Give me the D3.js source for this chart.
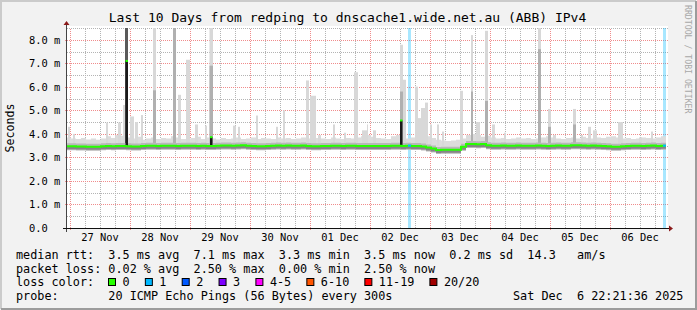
<!DOCTYPE html>
<meta charset="utf-8">
<style>
 body { margin: 0; background: #f2f2f2; }
 svg text { font-family: "DejaVu Sans Mono", monospace; fill: #000; white-space: pre; }
 .grid-minor line { stroke: #b4b4b4; stroke-dasharray: 1,1; }
 .grid-major line { stroke: #f08c8c; stroke-dasharray: 1,1; }
</style>
<body>
<svg width="697" height="310"></svg>
<script src="https://d3js.org/d3.v7.min.js"></script>
<script>

 var title = "Last 10 Days from redping to dnscache1.wide.net.au (ABB) IPv4";
 var endTime = new Date(2025, 11, 6, 22, 21, 36);
 var startTime = d3.timeDay.offset(endTime, -10);
 var stepHours = 2; // one value per 2 hours

 var dayLabels = ["27 Nov", "28 Nov", "29 Nov", "30 Nov", "01 Dec", "02 Dec", "03 Dec", "04 Dec", "05 Dec", "06 Dec"];
 var yTickLabels = ["0.0", "1.0 m", "2.0 m", "3.0 m", "4.0 m", "5.0 m", "6.0 m", "7.0 m", "8.0 m"];

 // median rtt in ms
 var medianRtt = [
     3.47,3.47,3.46,3.46,3.45,3.45,3.45,3.47,3.48,3.47,3.49,3.49,
     3.47,3.46,3.46,3.49,3.50,3.50,3.49,3.50,3.50,3.50,3.49,3.50,
     3.50,3.50,3.49,3.50,3.49,3.48,3.50,3.51,3.51,3.50,3.51,3.52,
     3.50,3.48,3.47,3.47,3.49,3.50,3.51,3.50,3.51,3.50,3.50,3.51,
     3.49,3.47,3.47,3.48,3.49,3.50,3.50,3.49,3.50,3.50,3.49,3.48,
     3.48,3.48,3.48,3.48,3.49,3.50,3.50,3.49,3.50,3.48,3.48,3.46,
     3.42,3.38,3.32,3.33,3.33,3.33,3.33,3.45,3.57,3.57,3.56,3.57,
     3.52,3.50,3.50,3.51,3.50,3.50,3.51,3.50,3.50,3.50,3.51,3.50,
     3.49,3.50,3.51,3.50,3.50,3.52,3.52,3.51,3.50,3.51,3.50,3.49,
     3.47,3.45,3.45,3.47,3.49,3.50,3.50,3.49,3.50,3.51,3.49,3.50
 ];

 // fastest ping of the step (bottom of the smoke)
 var smokeLow = [
     3.35,3.34,3.33,3.33,3.32,3.33,3.33,3.34,3.35,3.34,3.35,3.36,
     3.34,3.33,3.34,3.36,3.36,3.37,3.36,3.36,3.37,3.36,3.35,3.36,
     3.37,3.36,3.35,3.36,3.35,3.34,3.36,3.37,3.37,3.36,3.37,3.38,
     3.36,3.34,3.33,3.34,3.35,3.36,3.37,3.36,3.37,3.36,3.36,3.37,
     3.35,3.33,3.34,3.34,3.35,3.36,3.36,3.35,3.36,3.36,3.35,3.34,
     3.34,3.35,3.34,3.34,3.35,3.36,3.36,3.35,3.36,3.34,3.34,3.32,
     3.28,3.24,3.19,3.19,3.20,3.20,3.21,3.30,3.41,3.42,3.41,3.42,
     3.38,3.36,3.36,3.37,3.36,3.36,3.37,3.36,3.36,3.36,3.37,3.36,
     3.35,3.36,3.37,3.36,3.36,3.38,3.38,3.37,3.36,3.37,3.36,3.35,
     3.33,3.31,3.31,3.33,3.35,3.36,3.36,3.35,3.36,3.37,3.35,3.36
 ];

 // slow pings of the step (top of the usual smoke)
 var smokeHigh = [
     3.85,3.80,3.78,3.82,3.76,3.80,3.75,3.80,3.90,3.82,3.95,3.92,
     3.85,3.80,3.88,3.75,3.80,3.85,3.78,3.82,3.80,3.90,3.85,3.78,
     3.80,3.82,3.88,3.78,3.85,3.80,3.76,3.82,3.78,3.80,3.85,3.78,
     3.80,3.85,3.78,3.82,3.80,3.78,3.85,3.80,3.82,3.78,3.80,3.85,
     3.80,3.78,3.82,3.80,3.78,3.85,3.80,3.78,3.82,3.80,3.85,3.90,
     3.95,3.88,3.82,3.80,3.78,3.90,3.95,3.85,3.80,3.85,3.90,3.95,
     3.90,3.82,3.75,3.72,3.70,3.72,3.75,3.80,3.95,4.00,3.95,3.88,
     3.92,3.85,3.80,3.82,3.78,3.80,3.85,3.80,3.82,3.78,3.80,3.85,
     3.90,3.85,3.80,3.78,3.82,3.85,3.80,3.88,3.82,3.80,3.85,3.82,
     3.88,3.90,3.85,3.80,3.82,3.78,3.80,3.85,3.82,3.80,3.85,3.90
 ];

 // outlier pings: [hours after start, duration in hours, highest ping ms, dense part ms, darkest part ms]
 var spikes = [
     [0.8, 0.8, 4.30, 0, 0], [2.8, 0.8, 4.00, 0, 0], [16.0, 0.8, 4.48, 0, 0],
     [19.6, 0.4, 3.95, 0, 0], [20.8, 1.2, 4.48, 0, 0], [22.8, 0.8, 5.23, 0, 0],
     [23.6, 1.2, 8.50, 8.50, 8.50], [25.6, 1.6, 4.74, 0, 0], [27.6, 1.2, 4.50, 0, 0],
     [30.0, 0.8, 4.80, 0, 0], [34.8, 1.2, 8.50, 5.85, 0], [42.8, 1.2, 8.50, 8.50, 0],
     [44.8, 1.2, 5.66, 0, 0], [48.0, 1.6, 7.15, 0, 0], [51.6, 1.2, 4.40, 0, 0],
     [55.6, 0.8, 4.35, 0, 0], [57.4, 1.4, 8.50, 6.90, 0], [66.8, 1.2, 4.35, 0, 0],
     [68.8, 0.8, 4.30, 0, 0], [76.0, 0.8, 4.78, 0, 0], [84.0, 0.8, 4.30, 0, 0],
     [86.8, 0.8, 5.00, 0, 0], [96.0, 1.2, 6.27, 0, 0], [97.6, 2.4, 5.62, 0, 0],
     [100.8, 1.2, 3.95, 0, 0], [106.8, 0.8, 4.40, 0, 0], [111.2, 0.8, 4.05, 0, 0],
     [115.2, 1.6, 6.62, 0, 0], [118.4, 2.0, 4.15, 0, 0], [120.4, 0.4, 4.40, 0, 0],
     [122.8, 1.2, 4.15, 0, 0], [133.6, 1.2, 7.79, 5.80, 0], [134.8, 1.2, 6.30, 0, 0],
     [139.6, 1.2, 6.01, 0, 0], [140.8, 1.2, 4.67, 0, 0], [142.0, 1.6, 5.10, 0, 0],
     [143.6, 1.2, 5.33, 0, 0], [145.6, 0.8, 4.40, 0, 0], [148.4, 0.8, 4.40, 0, 0],
     [150.4, 0.8, 4.10, 0, 0], [157.6, 1.2, 5.83, 0, 0], [162.0, 0.8, 8.20, 5.80, 0],
     [164.0, 1.6, 4.50, 0, 0], [167.6, 1.2, 8.38, 5.40, 0], [170.4, 1.2, 4.40, 0, 0],
     [175.2, 0.8, 4.05, 0, 0], [188.8, 1.2, 8.50, 7.60, 0], [192.8, 1.2, 5.06, 4.30, 0],
     [194.8, 1.2, 3.95, 0, 0], [202.8, 1.2, 5.06, 4.40, 0], [206.0, 0.8, 3.95, 0, 0],
     [208.8, 1.2, 4.30, 0, 0], [210.8, 1.6, 4.15, 0, 0], [220.8, 2.0, 4.50, 0, 0],
     [229.2, 1.2, 3.85, 0, 0], [234.0, 0.8, 4.10, 0, 0]
 ];

 // steps where the median itself jumped: [hours after start, duration in hours, median ms]
 var medianSpikes = [[23.8, 1.0, 7.10], [57.6, 1.0, 3.86], [133.6, 1.0, 4.57]];

 // steps with packet loss: [hours after start, duration in hours, lost pings]
 var lossSteps = [[136.8, 1.2, 1], [238.8, 1.2, 1]];

 var lossLabels = ["0", "1", "2", "3", "4-5", "6-10", "11-19", "20/20"];
 var lossColors = ["#26ff00", "#00b8ff", "#0059ff", "#7e00ff", "#ff00ff", "#ff5500", "#ff0000", "#a10000"];

 var statLines = [
     "median rtt:  3.5 ms avg  7.1 ms max  3.3 ms min  3.5 ms now  0.2 ms sd  14.3   am/s",
     "packet loss: 0.02 % avg  2.50 % max  0.00 % min  2.50 % now"
 ];
 var probeLine = "probe:       20 ICMP Echo Pings (56 Bytes) every 300s";
 var stampLine = "Sat Dec  6 22:21:36 2025";

 var svg = d3.select("svg"),
     W = +svg.attr("width"),
     H = +svg.attr("height");

 var plotLeft = 67, plotRight = 667, plotTop = 28, plotBottom = 228;

 var x = d3.scaleTime().domain([startTime, endTime]).range([plotLeft - 1, plotRight - 1]);
 var y = d3.scaleLinear().domain([0, 8.5]).range([plotBottom, plotTop]);

 function at(h) { return d3.timeMinute.offset(startTime, Math.round(h * 60)); }
 function span(d) { return x(at(d[0] + d[1])) - x(at(d[0])); }
 function lossColor(n) {
     if (n <= 3) return lossColors[n];
     if (n <= 5) return lossColors[4];
     if (n <= 10) return lossColors[5];
     if (n <= 19) return lossColors[6];
     return lossColors[7];
 }

 // frame
 svg.append("rect").attr("width", W).attr("height", H).attr("fill", "#f2f2f2");
 svg.append("path").attr("d", "M1," + (H - 1) + "V1H" + (W - 1)).attr("fill", "none").attr("stroke", "#cbcbcb").attr("stroke-width", 2);
 svg.append("path").attr("d", "M1," + (H - 1) + "H" + (W - 1) + "V1").attr("fill", "none").attr("stroke", "#9c9c9c").attr("stroke-width", 2);

 // canvas
 svg.append("rect").attr("x", plotLeft).attr("y", plotTop - 2).attr("width", plotRight - plotLeft + 1).attr("height", plotBottom - plotTop + 2).attr("fill", "#fff");

 // grid
 var minorY = d3.range(0.5, 8.51, 1);
 svg.append("g").attr("class", "grid-minor")
    .attr("transform", "translate(" + plotLeft + ",0)")
    .call(d3.axisLeft(y).tickValues(minorY).tickSize(-(plotRight - plotLeft + 1)).tickFormat(""))
    .call(function(g) { g.select(".domain").remove(); });
 svg.append("g").attr("class", "grid-minor")
    .attr("transform", "translate(0," + plotBottom + ")")
    .call(d3.axisBottom(x).ticks(d3.timeHour.every(6)).tickSize(-(plotBottom - plotTop)).tickFormat(""))
    .call(function(g) { g.select(".domain").remove(); });
 svg.append("g").attr("class", "grid-major")
    .attr("transform", "translate(" + (plotLeft - 2) + ",0)")
    .call(d3.axisLeft(y).tickValues(d3.range(1, 9)).tickSize(-(plotRight - plotLeft + 3)).tickFormat(""))
    .call(function(g) { g.select(".domain").remove(); });
 svg.append("g").attr("class", "grid-major")
    .attr("transform", "translate(0," + (plotBottom + 2) + ")")
    .call(d3.axisBottom(x).ticks(d3.timeDay.every(1)).tickSize(-(plotBottom - plotTop + 2)).tickFormat(""))
    .call(function(g) { g.select(".domain").remove(); });
 svg.selectAll(".grid-minor line, .grid-major line").attr("shape-rendering", "crispEdges");

 // loss background
 svg.append("g").selectAll("rect").data(lossSteps).enter().append("rect")
    .attr("x", function(d) { return x(at(d[0])); })
    .attr("width", span)
    .attr("y", plotTop).attr("height", plotBottom - plotTop)
    .attr("fill", function(d) { return lossColor(d[2]); })
    .attr("fill-opacity", 0.34);

 // smoke
 var steps = medianRtt.map(function(v, i) {
     return { t: at(i * stepHours), med: v, lo: smokeLow[i], hi: smokeHigh[i] };
 });
 var last = steps[steps.length - 1];
 steps.push({ t: endTime, med: last.med, lo: last.lo, hi: last.hi });

 var smoke = svg.append("g");
 smoke.append("path").datum(steps)
    .attr("fill", "#dcdcdc")
    .attr("d", d3.area().curve(d3.curveStepAfter)
          .x(function(d) { return x(d.t); })
          .y0(function(d) { return y(d.lo); })
          .y1(function(d) { return y(d.hi); }));

 smoke.selectAll("rect.spike").data(spikes).enter().append("rect")
    .attr("class", "spike")
    .attr("x", function(d) { return x(at(d[0])); })
    .attr("width", span)
    .attr("y", function(d) { return y(Math.min(d[2], 8.5)); })
    .attr("height", function(d) { return y(3.5) - y(Math.min(d[2], 8.5)); })
    .attr("fill", "#d8d8d8");
 smoke.selectAll("rect.dense").data(spikes.filter(function(d) { return d[3] > 0; })).enter().append("rect")
    .attr("class", "dense")
    .attr("x", function(d) { return x(at(d[0])); })
    .attr("width", span)
    .attr("y", function(d) { return y(d[3]); })
    .attr("height", function(d) { return y(3.5) - y(d[3]); })
    .attr("fill", "#b0b0b0");
 smoke.selectAll("rect.dark").data(spikes.filter(function(d) { return d[4] > 0; })).enter().append("rect")
    .attr("class", "dark")
    .attr("x", function(d) { return x(at(d[0])); })
    .attr("width", span)
    .attr("y", function(d) { return y(d[4]); })
    .attr("height", function(d) { return y(3.5) - y(d[4]); })
    .attr("fill", "#5a5a5a");

 smoke.append("path").datum(steps)
    .attr("fill", "#b8b8b8")
    .attr("d", d3.area().curve(d3.curveStepAfter)
          .x(function(d) { return x(d.t); })
          .y0(function(d) { return y(d.med) + 4; })
          .y1(function(d) { return y(d.med) - 3; }));
 smoke.append("path").datum(steps)
    .attr("fill", "#858585")
    .attr("d", d3.area().curve(d3.curveStepAfter)
          .x(function(d) { return x(d.t); })
          .y0(function(d) { return y(d.med) + 3; })
          .y1(function(d) { return y(d.med) + 0.5; }));

 // median jumps
 smoke.selectAll("rect.jump").data(medianSpikes).enter().append("rect")
    .attr("class", "jump")
    .attr("x", function(d) { return x(at(d[0])); })
    .attr("width", span)
    .attr("y", function(d) { return y(d[2]); })
    .attr("height", function(d) { return y(medianRtt[Math.floor(d[0] / stepHours)]) - y(d[2]); })
    .attr("fill", "#1a1a1a");

 // median line
 svg.append("path").datum(steps)
    .attr("fill", "none")
    .attr("stroke", lossColors[0])
    .attr("stroke-width", 2)
    .attr("d", d3.line().curve(d3.curveStepAfter)
          .x(function(d) { return x(d.t); })
          .y(function(d) { return y(d.med); }));
 svg.append("g").selectAll("rect").data(medianSpikes).enter().append("rect")
    .attr("x", function(d) { return x(at(d[0])); })
    .attr("width", span)
    .attr("y", function(d) { return y(d[2]) - 1; })
    .attr("height", 2)
    .attr("fill", lossColors[0]);
 svg.append("g").selectAll("rect").data(lossSteps).enter().append("rect")
    .attr("x", function(d) { return x(at(d[0])); })
    .attr("width", span)
    .attr("y", function(d) { return y(medianRtt[Math.min(Math.floor(d[0] / stepHours), medianRtt.length - 1)]) - 1; })
    .attr("height", 2)
    .attr("fill", function(d) { return lossColor(d[2]); });

 // axes
 svg.append("line").attr("x1", plotLeft - 0.5).attr("x2", plotLeft - 0.5).attr("y1", plotBottom + 4).attr("y2", plotTop - 4)
    .attr("stroke", "#444");
 svg.append("line").attr("x1", plotLeft - 4).attr("x2", plotRight + 3).attr("y1", plotBottom + 0.5).attr("y2", plotBottom + 0.5)
    .attr("stroke", "#111");
 svg.append("path").attr("d", "M" + (plotLeft - 3.5) + "," + (plotTop - 3) + "L" + (plotLeft + 2.5) + "," + (plotTop - 3) + "L" + (plotLeft - 0.5) + "," + (plotTop - 7) + "Z")
    .attr("fill", "#8b1a1a");
 svg.append("path").attr("d", "M" + (plotRight + 2) + "," + (plotBottom - 2.5) + "L" + (plotRight + 2) + "," + (plotBottom + 3.5) + "L" + (plotRight + 6) + "," + (plotBottom + 0.5) + "Z")
    .attr("fill", "#8b1a1a");

 // tick labels
 svg.append("g").selectAll("text").data(yTickLabels).enter().append("text")
    .attr("x", 29)
    .attr("y", function(d, i) { return y(i); })
    .attr("dy", "0.37em")
    .style("font-size", "10.4px")
    .text(function(d) { return d; });

 var parseDay = d3.timeParse("%d %b %Y");
 svg.append("g").selectAll("text").data(dayLabels).enter().append("text")
    .attr("x", function(d) { return x(d3.timeHour.offset(parseDay(d + " 2025"), 12)); })
    .attr("y", 241)
    .attr("text-anchor", "middle")
    .style("font-size", "10.4px")
    .text(function(d) { return d; });

 // titles
 svg.append("text").attr("x", 347.5).attr("y", 22).attr("text-anchor", "middle")
    .style("font-size", "13px").text(title);
 svg.append("text").attr("transform", "translate(14," + ((plotTop + plotBottom) / 2) + ") rotate(-90)")
    .attr("text-anchor", "middle").style("font-size", "11.6px").text("Seconds");
 svg.append("text").attr("transform", "translate(684.5,5) rotate(90)")
    .style("font-size", "8.2px").style("fill", "#a8a8a8").text("RRDTOOL / TOBI OETIKER");

 // legend
 var legend = svg.append("g").style("font-size", "11.8px");
 statLines.forEach(function(line, i) {
     legend.append("text").attr("x", 16).attr("y", 259 + i * 13.5).text(line);
 });
 legend.append("text").attr("x", 16).attr("y", 286).text("loss color:");
 var bx = 108.5;
 lossLabels.forEach(function(lab, i) {
     legend.append("rect").attr("x", bx).attr("y", 278.5).attr("width", 7).attr("height", 7)
        .attr("fill", lossColors[i]).attr("stroke", "#000").attr("stroke-width", 1);
     legend.append("text").attr("x", bx + 14).attr("y", 286).text(lab);
     bx = bx + 14 + lab.length * 7.05 + 15.8;
 });
 legend.append("text").attr("x", 16).attr("y", 299.5).text(probeLine);
 legend.append("text").attr("x", 513).attr("y", 299.5).text(stampLine);

</script>
</body>
